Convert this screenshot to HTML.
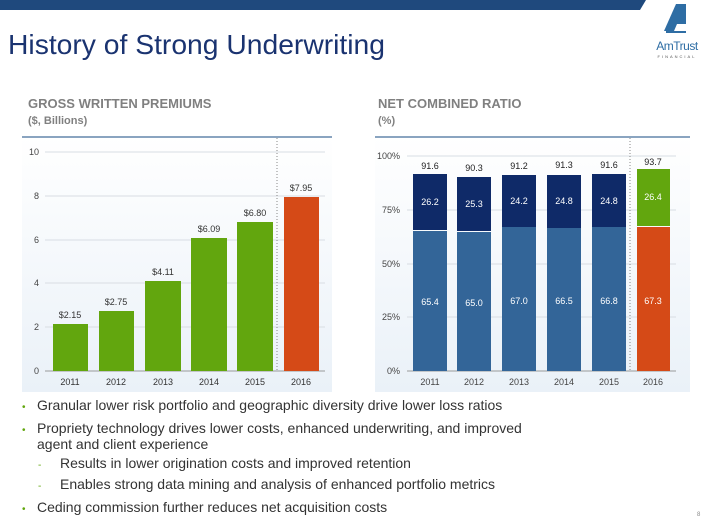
<!DOCTYPE html>
<html><head><meta charset="utf-8"><style>
html,body{margin:0;padding:0;background:#fff;}
svg{display:block;font-family:"Liberation Sans",Arial,sans-serif;}
</style></head><body>
<svg width="710" height="519" viewBox="0 0 710 519" xmlns="http://www.w3.org/2000/svg">
<defs>
<linearGradient id="bg" x1="0" y1="0" x2="0" y2="1">
<stop offset="0" stop-color="#ffffff"/><stop offset="1" stop-color="#eaf1f8"/>
</linearGradient>
</defs>
<polygon points="0,0 646,0 640,10 0,10" fill="#1f497d"/>
<text x="8" y="54" font-size="28" fill="#1a3370" textLength="377" lengthAdjust="spacingAndGlyphs">History of Strong Underwriting</text>
<!-- logo -->
<polygon points="676,4 686,4 686,31 664,31" fill="#2e6da4"/>
<polygon points="674,31 686,31 686,24 677,24" fill="#fff"/>
<rect x="666" y="31" width="20" height="2" fill="#2e6da4"/>
<text x="677" y="50" font-size="12" fill="#2e6da4" text-anchor="middle" letter-spacing="-0.5">AmTrust</text>
<text x="677" y="58" font-size="4" fill="#555" text-anchor="middle" letter-spacing="2">FINANCIAL</text>
<!-- headings -->
<text x="28" y="108" font-size="13" font-weight="bold" fill="#808080">GROSS WRITTEN PREMIUMS</text>
<text x="28" y="124" font-size="11" font-weight="bold" fill="#808080">($, Billions)</text>
<text x="378" y="108" font-size="13" font-weight="bold" fill="#808080">NET COMBINED RATIO</text>
<text x="378" y="124" font-size="11" font-weight="bold" fill="#808080">(%)</text>
<!-- left panel -->
<rect x="22" y="136" width="310" height="256" fill="url(#bg)"/>
<rect x="22" y="136" width="310" height="2" fill="#8aa4c0"/>
<g stroke="#d8dde3" stroke-width="1">
<line x1="45" y1="152" x2="325" y2="152"/><line x1="45" y1="196" x2="325" y2="196"/>
<line x1="45" y1="240" x2="325" y2="240"/><line x1="45" y1="283" x2="325" y2="283"/>
<line x1="45" y1="327" x2="325" y2="327"/></g>
<line x1="45" y1="371" x2="325" y2="371" stroke="#999"/>
<line x1="277" y1="138" x2="277" y2="371" stroke="#888" stroke-dasharray="1,2"/>
<g font-size="9" fill="#444" text-anchor="end">
<text x="39" y="155">10</text><text x="39" y="199">8</text><text x="39" y="243">6</text>
<text x="39" y="286">4</text><text x="39" y="330">2</text><text x="39" y="374">0</text></g>
<g fill="#62a60e">
<rect x="53" y="324" width="35" height="47"/><rect x="99" y="311" width="35" height="60"/>
<rect x="145" y="281" width="36" height="90"/><rect x="191" y="238" width="36" height="133"/>
<rect x="237" y="222" width="36" height="149"/></g>
<rect x="284" y="197" width="35" height="174" fill="#d54a17"/>
<g font-size="9" fill="#333" text-anchor="middle">
<text x="70" y="318">$2.15</text><text x="116" y="305">$2.75</text><text x="163" y="275">$4.11</text>
<text x="209" y="232">$6.09</text><text x="255" y="216">$6.80</text><text x="301" y="191">$7.95</text>
<text x="70" y="385">2011</text><text x="116" y="385">2012</text><text x="163" y="385">2013</text>
<text x="209" y="385">2014</text><text x="255" y="385">2015</text><text x="301" y="385">2016</text></g>
<!-- right panel -->
<rect x="375" y="136" width="315" height="256" fill="url(#bg)"/>
<rect x="375" y="136" width="315" height="2" fill="#8aa4c0"/>
<g stroke="#d8dde3" stroke-width="1">
<line x1="407" y1="156" x2="676" y2="156"/><line x1="407" y1="210" x2="676" y2="210"/>
<line x1="407" y1="264" x2="676" y2="264"/><line x1="407" y1="317" x2="676" y2="317"/></g>
<line x1="407" y1="371" x2="676" y2="371" stroke="#999"/>
<line x1="630" y1="138" x2="630" y2="371" stroke="#888" stroke-dasharray="1,2"/>
<g font-size="9" fill="#444" text-anchor="end">
<text x="400" y="159">100%</text><text x="400" y="213">75%</text><text x="400" y="267">50%</text>
<text x="400" y="320">25%</text><text x="400" y="374">0%</text></g>
<g fill="#0f2a68">
<rect x="413" y="174" width="34" height="56"/><rect x="457" y="177" width="34" height="54"/>
<rect x="502" y="175" width="34" height="52"/><rect x="547" y="175" width="34" height="53"/>
<rect x="592" y="174" width="34" height="53"/></g>
<g fill="#336598">
<rect x="413" y="231" width="34" height="140"/><rect x="457" y="232" width="34" height="139"/>
<rect x="502" y="227" width="34" height="144"/><rect x="547" y="228" width="34" height="143"/>
<rect x="592" y="227" width="34" height="144"/></g>
<rect x="637" y="169" width="33" height="57" fill="#62a60e"/>
<rect x="637" y="227" width="33" height="144" fill="#d54a17"/>
<g font-size="9" fill="#fff" text-anchor="middle">
<text x="430" y="205">26.2</text><text x="474" y="207">25.3</text><text x="519" y="204">24.2</text>
<text x="564" y="204">24.8</text><text x="609" y="204">24.8</text><text x="653" y="200">26.4</text>
<text x="430" y="305">65.4</text><text x="474" y="306">65.0</text><text x="519" y="304">67.0</text>
<text x="564" y="304">66.5</text><text x="609" y="304">66.8</text><text x="653" y="304">67.3</text></g>
<g font-size="9" fill="#222" text-anchor="middle">
<text x="430" y="169">91.6</text><text x="474" y="171">90.3</text><text x="519" y="169">91.2</text>
<text x="564" y="168">91.3</text><text x="609" y="168">91.6</text><text x="653" y="165">93.7</text></g>
<g font-size="9" fill="#444" text-anchor="middle">
<text x="430" y="385">2011</text><text x="474" y="385">2012</text><text x="519" y="385">2013</text>
<text x="564" y="385">2014</text><text x="609" y="385">2015</text><text x="653" y="385">2016</text></g>
<!-- bullets -->
<g font-size="14" fill="#333">
<text x="22" y="410" fill="#62a60e" font-size="10">•</text>
<text x="37" y="410">Granular lower risk portfolio and geographic diversity drive lower loss ratios</text>
<text x="22" y="433" fill="#62a60e" font-size="10">•</text>
<text x="37" y="433">Propriety technology drives lower costs, enhanced underwriting, and improved</text>
<text x="37" y="449">agent and client experience</text>
<text x="38" y="468" fill="#62a60e" font-size="10">-</text>
<text x="60" y="468">Results in lower origination costs and improved retention</text>
<text x="38" y="489" fill="#62a60e" font-size="10">-</text>
<text x="60" y="489">Enables strong data mining and analysis of enhanced portfolio metrics</text>
<text x="22" y="512" fill="#62a60e" font-size="10">•</text>
<text x="37" y="512">Ceding commission further reduces net acquisition costs</text>
</g>
<text x="697" y="516" font-size="6" fill="#888">8</text>
</svg>
</body></html>
